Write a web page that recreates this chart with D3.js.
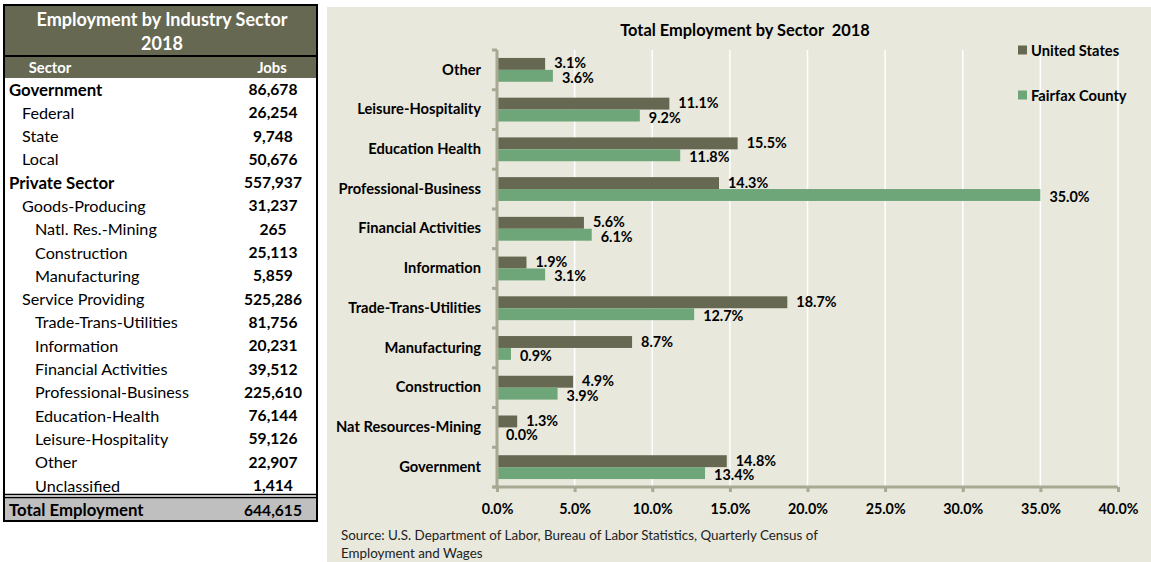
<!DOCTYPE html>
<html>
<head>
<meta charset="utf-8">
<script src="https://cdn.jsdelivr.net/npm/d3@7"></script>
<style>
  html, body { margin: 0; padding: 0; background: #ffffff; }
  svg { display: block; font-family: Lato, "Open Sans", sans-serif; }
</style>
</head>
<body>
<svg id="chart" width="1151" height="562"></svg>
<script>
// ---- Table data: jobs by sector, Fairfax County 2018 ----
const tableSectors = ["Government", "Federal", "State", "Local", "Private Sector",
  "Goods-Producing", "Natl. Res.-Mining", "Construction", "Manufacturing",
  "Service Providing", "Trade-Trans-Utilities", "Information", "Financial Activities",
  "Professional-Business", "Education-Health", "Leisure-Hospitality", "Other", "Unclassified"];
const tableJobs = ["86,678", "26,254", "9,748", "50,676", "557,937", "31,237", "265",
  "25,113", "5,859", "525,286", "81,756", "20,231", "39,512", "225,610", "76,144",
  "59,126", "22,907", "1,414"];
const tableLevels = [0, 1, 1, 1, 0, 1, 2, 2, 2, 1, 2, 2, 2, 2, 2, 2, 2, 2];
const totalLabel = "Total Employment";
const totalJobs = "644,615";

// ---- Chart data: share of total employment (%) ----
const categories = ["Other", "Leisure-Hospitality", "Education Health", "Professional-Business",
  "Financial Activities", "Information", "Trade-Trans-Utilities", "Manufacturing",
  "Construction", "Nat Resources-Mining", "Government"];
const seriesNames = ["United States", "Fairfax County"];
const unitedStates = [3.1, 11.1, 15.5, 14.3, 5.6, 1.9, 18.7, 8.7, 4.9, 1.3, 14.8];
const fairfaxCounty = [3.6, 9.2, 11.8, 35.0, 6.1, 3.1, 12.7, 0.9, 3.9, 0.0, 13.4];
const xTicks = [0, 5, 10, 15, 20, 25, 30, 35, 40];

const olive = "#666852";
const green = "#6ea679";
const panelBg = "#e8e8dc";
const axisGray = "#a8a893";
const FONT = "Lato, 'Open Sans', sans-serif";

const svg = d3.select("#chart");

// =================== Table ===================
const tbl = svg.append("g").attr("class", "table");
const tX0 = 4, tX1 = 317;
tbl.append("rect").attr("x", tX0).attr("y", 5).attr("width", tX1 - tX0).attr("height", 51).attr("fill", olive);
tbl.append("rect").attr("x", tX0).attr("y", 57).attr("width", tX1 - tX0).attr("height", 21).attr("fill", olive);
tbl.append("rect").attr("x", tX0).attr("y", 498).attr("width", tX1 - tX0).attr("height", 23).attr("fill", "#bfbfbf");
tbl.append("line").attr("x1", tX0).attr("x2", tX1).attr("y1", 56).attr("y2", 56).attr("stroke", "#000").attr("stroke-width", 2);
tbl.append("line").attr("x1", tX0).attr("x2", tX1).attr("y1", 494.5).attr("y2", 494.5).attr("stroke", "#000").attr("stroke-width", 1.5);
tbl.append("line").attr("x1", tX0).attr("x2", tX1).attr("y1", 497.5).attr("y2", 497.5).attr("stroke", "#000").attr("stroke-width", 1.5);
tbl.append("rect").attr("x", tX0).attr("y", 5).attr("width", tX1 - tX0).attr("height", 516)
  .attr("fill", "none").attr("stroke", "#000").attr("stroke-width", 2);

tbl.append("text").attr("x", 162).attr("y", 19).attr("text-anchor", "middle").attr("dominant-baseline", "central")
  .attr("fill", "#fff").attr("font-weight", 700).attr("font-size", 18).text("Employment by Industry Sector");
tbl.append("text").attr("x", 162).attr("y", 43).attr("text-anchor", "middle").attr("dominant-baseline", "central")
  .attr("fill", "#fff").attr("font-weight", 700).attr("font-size", 18).text("2018");
tbl.append("text").attr("x", 50).attr("y", 67).attr("text-anchor", "middle").attr("dominant-baseline", "central")
  .attr("fill", "#fff").attr("font-weight", 700).attr("font-size", 14.8).text("Sector");
tbl.append("text").attr("x", 272).attr("y", 67).attr("text-anchor", "middle").attr("dominant-baseline", "central")
  .attr("fill", "#fff").attr("font-weight", 700).attr("font-size", 14.8).text("Jobs");

const rowY = d3.scaleLinear().domain([0, tableSectors.length - 1]).range([89, 485]);
const indent = [9, 22, 35];
tbl.selectAll("text.sector").data(tableSectors).join("text")
  .attr("class", "sector")
  .attr("x", (d, i) => indent[tableLevels[i]])
  .attr("y", (d, i) => rowY(i))
  .attr("dominant-baseline", "central")
  .attr("font-size", (d, i) => tableLevels[i] === 0 ? 16.8 : 16.2)
  .attr("font-weight", (d, i) => tableLevels[i] === 0 ? 700 : 400)
  .attr("fill", "#000")
  .text(d => d);
tbl.selectAll("text.jobs").data(tableJobs).join("text")
  .attr("class", "jobs")
  .attr("x", 273)
  .attr("y", (d, i) => rowY(i))
  .attr("text-anchor", "middle")
  .attr("dominant-baseline", "central")
  .attr("font-size", 15.6)
  .attr("font-weight", 700)
  .attr("fill", "#000")
  .text(d => d);
tbl.append("text").attr("x", 9).attr("y", 509.5).attr("dominant-baseline", "central")
  .attr("font-size", 16.8).attr("font-weight", 700).text(totalLabel);
tbl.append("text").attr("x", 273).attr("y", 509.5).attr("text-anchor", "middle").attr("dominant-baseline", "central")
  .attr("font-size", 15.6).attr("font-weight", 700).text(totalJobs);

// =================== Chart ===================
const chart = svg.append("g").attr("class", "bar-chart");
chart.append("rect").attr("x", 327).attr("y", 7).attr("width", 824).attr("height", 555).attr("fill", panelBg);

const plotTop = 50, plotBottom = 487;
const x = d3.scaleLinear().domain([0, 40]).range([497, 1118]);
const y = d3.scaleBand().domain(categories).range([plotTop, plotBottom]).paddingInner(0.4).paddingOuter(0.2);
const ySub = d3.scaleBand().domain(seriesNames).range([0, y.bandwidth()]);
const colors = d3.scaleOrdinal().domain(seriesNames).range([olive, green]);

// Vertical gridlines
chart.append("g").selectAll("line").data(xTicks.slice(1)).join("line")
  .attr("x1", d => x(d)).attr("x2", d => x(d))
  .attr("y1", plotTop).attr("y2", plotBottom)
  .attr("stroke", "#ffffff").attr("stroke-width", 1.5);

// Title
chart.append("text").attr("x", 745).attr("y", 29).attr("text-anchor", "middle").attr("dominant-baseline", "central")
  .attr("font-size", 16.4).attr("font-weight", 700).attr("fill", "#000")
  .attr("xml:space", "preserve").text("Total Employment by Sector  2018");

// Bars and value labels
const rows = categories.map((c, i) => ({ cat: c, values: [unitedStates[i], fairfaxCounty[i]] }));
const groups = chart.append("g").selectAll("g").data(rows).join("g")
  .attr("transform", d => `translate(0,${y(d.cat)})`);
groups.selectAll("rect").data(d => d.values.map((v, j) => ({ s: seriesNames[j], v }))).join("rect")
  .attr("x", x(0))
  .attr("y", d => ySub(d.s))
  .attr("width", d => x(d.v) - x(0))
  .attr("height", ySub.bandwidth())
  .attr("fill", d => colors(d.s));
groups.selectAll("text").data(d => d.values.map((v, j) => ({ s: seriesNames[j], v }))).join("text")
  .attr("x", d => x(d.v) + 9)
  .attr("y", (d, j) => ySub(d.s) + ySub.bandwidth() / 2 + (j === 0 ? -1 : 1.5))
  .attr("dominant-baseline", "central")
  .attr("font-size", 14.4)
  .attr("font-weight", 700)
  .attr("fill", "#000")
  .text(d => d3.format(".1f")(d.v) + "%");

// Axes
const xAxis = d3.axisBottom(x).tickValues(xTicks).tickFormat(d => d3.format(".1f")(d) + "%").tickSize(5).tickPadding(12);
const gx = chart.append("g").attr("transform", `translate(0,${plotBottom})`).call(xAxis);
gx.select(".domain").attr("stroke", axisGray).attr("stroke-width", 3).attr("d", `M${x(0) - 4},0H${x(40)}`);
gx.selectAll(".tick line").attr("stroke", axisGray).attr("stroke-width", 3);
gx.selectAll(".tick text").attr("font-size", 14.3).attr("font-weight", 700).attr("fill", "#000")
  .attr("font-family", FONT);

const yAxis = d3.axisLeft(y).tickSize(0).tickPadding(16);
const gy = chart.append("g").attr("transform", `translate(${x(0)},0)`).call(yAxis);
gy.select(".domain").attr("stroke", axisGray).attr("stroke-width", 3).attr("d", `M0,${plotTop}V${plotBottom}`);
gy.selectAll(".tick text").attr("font-size", 14.7).attr("font-weight", 700).attr("fill", "#000")
  .attr("font-family", FONT);
// Category boundary ticks on the vertical axis
const bounds = d3.range(categories.length + 1).map(i => plotTop + i * y.step());
gy.append("g").selectAll("line").data(bounds).join("line")
  .attr("x1", -5).attr("x2", 0).attr("y1", d => d).attr("y2", d => d)
  .attr("stroke", axisGray).attr("stroke-width", 3);

// Legend
const legend = chart.append("g").selectAll("g").data(seriesNames).join("g")
  .attr("transform", (d, i) => `translate(1018,${50 + i * 45})`);
legend.append("rect").attr("x", 0).attr("y", -4.5).attr("width", 9).attr("height", 9).attr("fill", d => colors(d));
legend.append("text").attr("x", 13).attr("y", 0).attr("dominant-baseline", "central")
  .attr("font-size", 14.7).attr("font-weight", 700).attr("fill", "#000").text(d => d);

// Source note
chart.append("text").attr("x", 341).attr("y", 535).attr("dominant-baseline", "central")
  .attr("font-size", 13.4).attr("fill", "#222")
  .text("Source: U.S. Department of Labor, Bureau of Labor Statistics, Quarterly Census of");
chart.append("text").attr("x", 341).attr("y", 553).attr("dominant-baseline", "central")
  .attr("font-size", 13.4).attr("fill", "#222").text("Employment and Wages");
</script>
</body>
</html>
